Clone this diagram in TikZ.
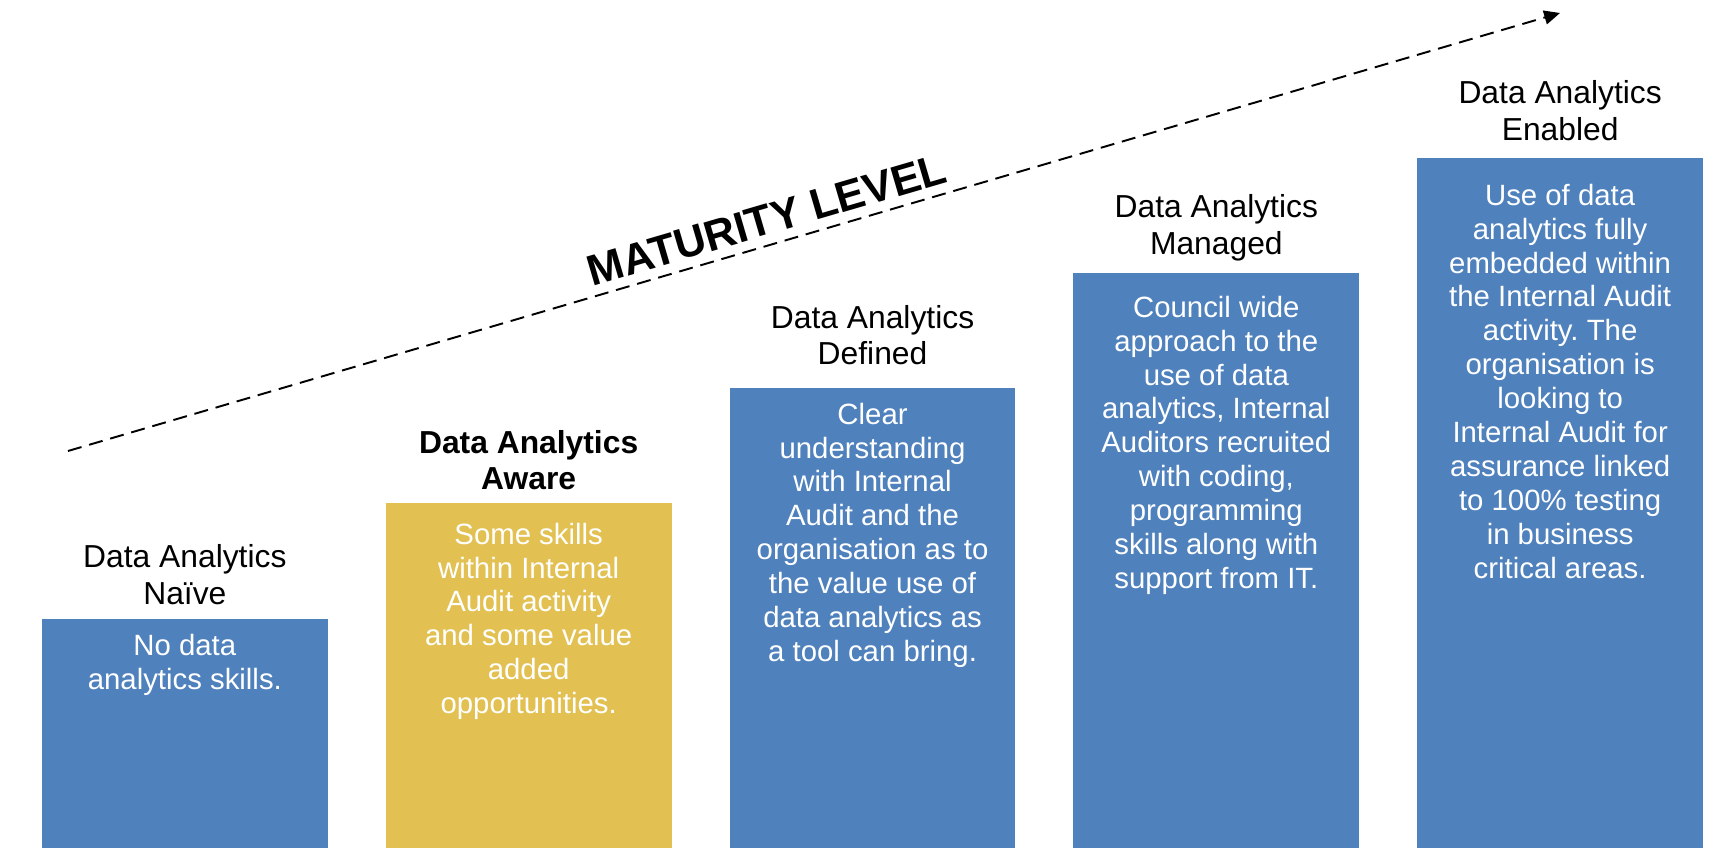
\documentclass[tikz,border=0pt]{standalone}
\usepackage{fontspec}
\setmainfont{Liberation Sans}
\usetikzlibrary{positioning,arrows.meta}
\definecolor{stepblue}{RGB}{79,129,189}
\definecolor{stepgold}{RGB}{226,193,82}
\def\barwidth{5.716cm}
\frenchspacing
\tikzset{
  stepbar/.style={fill=stepblue, minimum width=\barwidth, inner sep=0pt, anchor=south west},
  lbl/.style={align=center, inner sep=0pt, font=\fontsize{18.1}{20.9}\selectfont},
  txt/.style={align=center, inner sep=0pt, text=white, font=\fontsize{16.7}{19.3}\selectfont},
}

\begin{document}
\begin{tikzpicture}[x=2cm,y=2cm]
\useasboundingbox (0,0) rectangle (17.17,8.48);
% the five steps
\node[stepbar, minimum height=4.564cm] (naive) at (0.416,0) {};
\node[stepbar, fill=stepgold, minimum height=6.886cm] (aware) at (3.854,0) {};
\node[stepbar, minimum height=9.186cm] (defined) at (7.293,0) {};
\node[stepbar, minimum height=11.484cm] (managed) at (10.731,0) {};
\node[stepbar, minimum height=13.784cm] (enabled) at (14.169,0) {};

% names above the steps
\node[lbl, above=0.28cm of naive] (naivelbl) {Data Analytics\\Naïve};
\node[lbl, above=0.25cm of aware, font=\fontsize{18.1}{20.9}\selectfont\bfseries] (awarelbl) {Data Analytics\\Aware};
\node[lbl, above=0.45cm of defined] (definedlbl) {Data Analytics\\Defined};
\node[lbl, above=0.24cm of managed] (managedlbl) {Data Analytics\\Managed};
\node[lbl, above=0.34cm of enabled] (enabledlbl) {Data Analytics\\Enabled};

% text inside the steps
\node[txt, below=0.29cm of naive.north] (naivetxt) {No data\\analytics skills.};
\node[txt, below=0.39cm of aware.north] (awaretxt) {Some skills\\within Internal\\Audit activity\\and some value\\added\\opportunities.};
\node[txt, below=0.29cm of defined.north] (definedtxt) {Clear\\understanding\\with Internal\\Audit and the\\organisation as to\\the value use of\\data analytics as\\a tool can bring.};
\node[txt, below=0.45cm of managed.north] (managedtxt) {Council wide\\approach to the\\use of data\\analytics, Internal\\Auditors recruited\\with coding,\\programming\\skills along with\\support from IT.};
\node[txt, below=0.51cm of enabled.north] (enabledtxt) {Use of data\\analytics fully\\embedded within\\the Internal Audit\\activity. The\\organisation is\\looking to\\Internal Audit for\\assurance linked\\to 100\% testing\\in business\\critical areas.};

% rising arrow
\coordinate (low) at (0.68,3.97);
\coordinate (high) at (15.60,8.35);
\draw[line width=1.1pt, dash pattern=on 8pt off 4.5pt, -{Triangle[length=9pt,width=8pt]}] (low) -- node[pos=0.473, sloped, above, inner sep=5pt, font=\fontsize{24.6}{28}\selectfont\bfseries] (title) {MATURITY LEVEL} (high);
\end{tikzpicture}
\end{document}
